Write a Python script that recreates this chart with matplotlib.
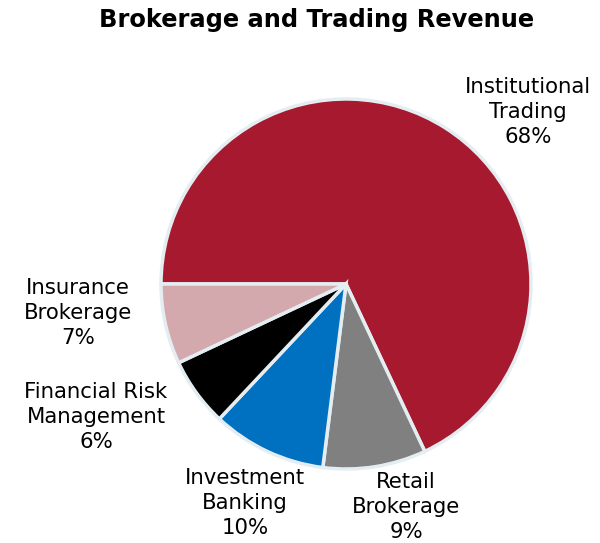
import matplotlib
matplotlib.use("Agg")
import matplotlib.pyplot as plt

categories = ["Institutional\nTrading", "Retail\nBrokerage", "Investment\nBanking",
              "Financial Risk\nManagement", "Insurance\nBrokerage"]
shares = [68, 9, 10, 6, 7]
colors = ["#A6192E", "#808080", "#0070C0", "#000000", "#D4A9AE"]

# label centres in units of pie radius (layout only)
label_pos = [(0.984, 0.93), (0.324, -1.205), (-0.546, -1.184), (-1.351, -0.719), (-1.449, -0.157)]

plt.rcParams['font.family'] = ['DejaVu Sans']
fig = plt.figure(figsize=(6.0, 5.43), dpi=100)
ax = fig.add_axes([161/600, 74/543, 370/600, 370/543])
ax.pie(shares, colors=colors, startangle=180, counterclock=False, radius=1.0,
       wedgeprops=dict(edgecolor="#E4EEF2", linewidth=2.5))
ax.set_xlim(-1, 1)
ax.set_ylim(-1, 1)
ax.set_aspect('equal')
ax.axis('off')

for cat, val, (x, y) in zip(categories, shares, label_pos):
    ax.text(x, y, f"{cat}\n{val}%", ha="center", va="center", fontsize=15.3,
            linespacing=1.33, color="black", clip_on=False)

fig.text(317/600, 1 - 20/543, "Brokerage and Trading Revenue", ha="center", va="center",
         fontsize=17.4, fontweight="bold")

fig.savefig("out.png", dpi=100)
